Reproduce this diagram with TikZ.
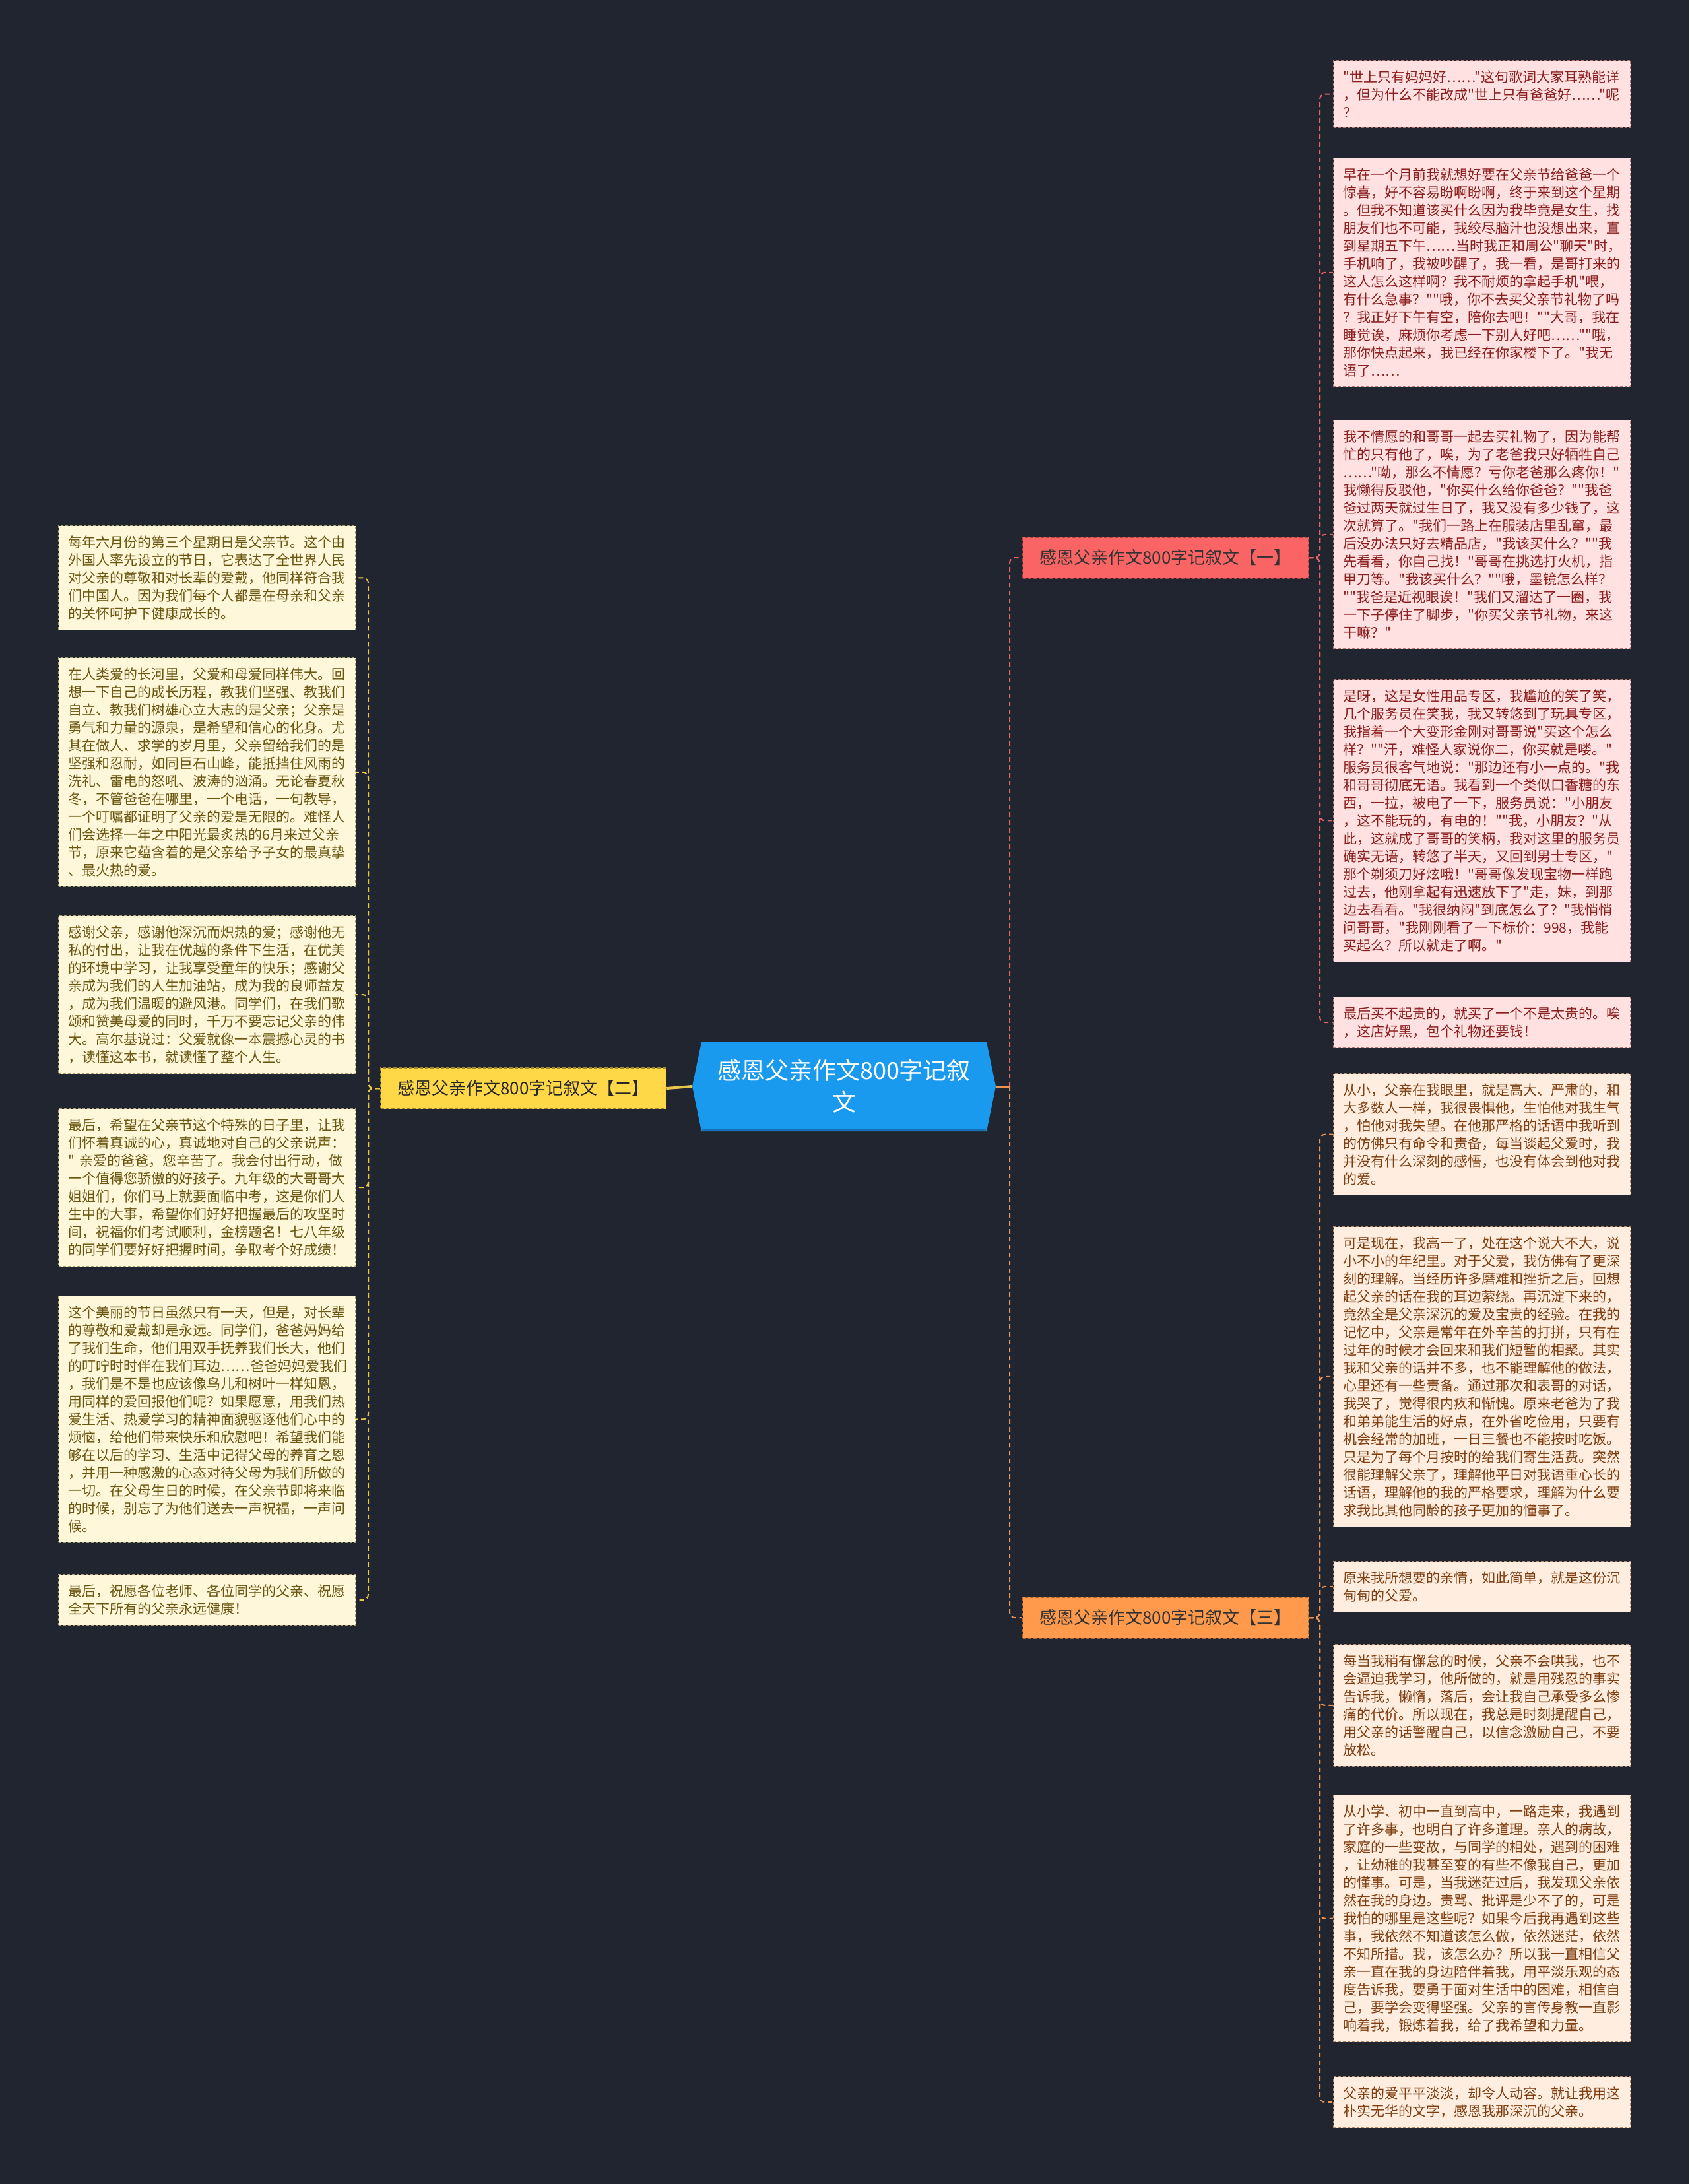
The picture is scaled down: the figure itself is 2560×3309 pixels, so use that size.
\documentclass[tikz,border=0pt]{standalone}
\usepackage{fontspec}
\newfontfamily\cjk{Noto Sans CJK SC}
\usetikzlibrary{calc}
\definecolor{cbg}{HTML}{21252F}
\definecolor{aFill}{HTML}{FFE1E1}
\definecolor{aText}{HTML}{8B1E1E}
\definecolor{aBord}{HTML}{B87878}
\definecolor{cFill}{HTML}{FFEEE0}
\definecolor{cText}{HTML}{7F3F12}
\definecolor{cBord}{HTML}{B88A68}
\definecolor{bFill}{HTML}{FEF7DA}
\definecolor{bText}{HTML}{6B5712}
\definecolor{bBord}{HTML}{ACA070}
\definecolor{brA}{HTML}{FA6464}
\definecolor{brAb}{HTML}{A84545}
\definecolor{brC}{HTML}{FF9A4C}
\definecolor{brCb}{HTML}{B06A30}
\definecolor{brB}{HTML}{FFD848}
\definecolor{brBb}{HTML}{A08A30}
\definecolor{cblue}{HTML}{1A9AEF}
\definecolor{cbluedark}{HTML}{1570B8}
\definecolor{lnA}{HTML}{E56363}
\definecolor{lnC}{HTML}{EF9352}
\definecolor{lnB}{HTML}{E8C64A}
\tikzset{
  leaf/.style={anchor=north west, text width=420pt, inner xsep=15pt, inner ysep=15pt,
    align=left, font=\cjk\fontsize{21}{27}\selectfont, line width=1.2pt,
    dash pattern=on 4pt off 3pt},
  leafA/.style={leaf, fill=aFill, draw=aBord, text=aText},
  leafC/.style={leaf, fill=cFill, draw=cBord, text=cText},
  leafB/.style={leaf, fill=bFill, draw=bBord, text=bText},
  branch/.style={minimum width=433pt, minimum height=62pt, inner sep=0pt,
    font=\cjk\fontsize{26}{32}\selectfont, line width=1.5pt, dash pattern=on 5pt off 3pt},
  branchA/.style={branch, fill=brA, draw=brAb, text=black!80},
  branchC/.style={branch, fill=brC, draw=brCb, text=black!80},
  branchB/.style={branch, fill=brB, draw=brBb, text=black!85},
  centernode/.style={minimum width=460pt, minimum height=135pt, inner sep=0pt, align=center,
    font=\cjk\fontsize{36}{48}\selectfont, text=white},
  con/.style={line width=2pt, dash pattern=on 7pt off 5pt, rounded corners=8pt},
  conA/.style={con, draw=lnA},
  conC/.style={con, draw=lnC},
  conB/.style={con, draw=lnB},
}
\begin{document}
\begin{tikzpicture}[x=1pt,y=-1pt]
\useasboundingbox (0,0) rectangle (2560,3309);
\fill[cbg] (0,0) rectangle (2560,3309);

% center
\fill[cblue] (1063,1579) -- (1495,1579) -- (1509,1646) -- (1495,1714) -- (1063,1714) -- (1049,1646) -- cycle;
\draw[cbluedark, line width=4pt] (1064,1712) -- (1494,1712);
\node[centernode] (center) at (1279,1646) {感恩父亲作文800字记叙\\文};

% branches
\node[branchA] (b1) at (1766,845) {感恩父亲作文800字记叙文【一】};
\node[branchC] (b3) at (1766,2451) {感恩父亲作文800字记叙文【三】};
\node[branchB] (b2) at (793,1649) {感恩父亲作文800字记叙文【二】};

% right leaves group 1
\node[leafA] (r1) at (2020,91) {"世上只有妈妈好……"这句歌词大家耳熟能详\\，但为什么不能改成"世上只有爸爸好……"呢\\？};
\node[leafA] (r2) at (2020,239) {早在一个月前我就想好要在父亲节给爸爸一个\\惊喜，好不容易盼啊盼啊，终于来到这个星期\\。但我不知道该买什么因为我毕竟是女生，找\\朋友们也不可能，我绞尽脑汁也没想出来，直\\到星期五下午……当时我正和周公"聊天"时，\\手机响了，我被吵醒了，我一看，是哥打来的\\这人怎么这样啊？我不耐烦的拿起手机"喂，\\有什么急事？""哦，你不去买父亲节礼物了吗\\？我正好下午有空，陪你去吧！""大哥，我在\\睡觉诶，麻烦你考虑一下别人好吧……""哦，\\那你快点起来，我已经在你家楼下了。"我无\\语了……};
\node[leafA] (r3) at (2020,636) {我不情愿的和哥哥一起去买礼物了，因为能帮\\忙的只有他了，唉，为了老爸我只好牺牲自己\\……"呦，那么不情愿？亏你老爸那么疼你！"\\我懒得反驳他，"你买什么给你爸爸？""我爸\\爸过两天就过生日了，我又没有多少钱了，这\\次就算了。"我们一路上在服装店里乱窜，最\\后没办法只好去精品店，"我该买什么？""我\\先看看，你自己找！"哥哥在挑选打火机，指\\甲刀等。"我该买什么？""哦，墨镜怎么样？\\""我爸是近视眼诶！"我们又溜达了一圈，我\\一下子停住了脚步，"你买父亲节礼物，来这\\干嘛？"};
\node[leafA] (r4) at (2020,1029) {是呀，这是女性用品专区，我尴尬的笑了笑，\\几个服务员在笑我，我又转悠到了玩具专区，\\我指着一个大变形金刚对哥哥说"买这个怎么\\样？""汗，难怪人家说你二，你买就是喽。"\\服务员很客气地说："那边还有小一点的。"我\\和哥哥彻底无语。我看到一个类似口香糖的东\\西，一拉，被电了一下，服务员说："小朋友\\，这不能玩的，有电的！""我，小朋友？"从\\此，这就成了哥哥的笑柄，我对这里的服务员\\确实无语，转悠了半天，又回到男士专区，"\\那个剃须刀好炫哦！"哥哥像发现宝物一样跑\\过去，他刚拿起有迅速放下了"走，妹，到那\\边去看看。"我很纳闷"到底怎么了？"我悄悄\\问哥哥，"我刚刚看了一下标价：998，我能\\买起么？所以就走了啊。"};
\node[leafA] (r5) at (2020,1510) {最后买不起贵的，就买了一个不是太贵的。唉\\，这店好黑，包个礼物还要钱！};

% right leaves group 3
\node[leafC] (r6) at (2020,1626) {从小，父亲在我眼里，就是高大、严肃的，和\\大多数人一样，我很畏惧他，生怕他对我生气\\，怕他对我失望。在他那严格的话语中我听到\\的仿佛只有命令和责备，每当谈起父爱时，我\\并没有什么深刻的感悟，也没有体会到他对我\\的爱。};
\node[leafC] (r7) at (2020,1858) {可是现在，我高一了，处在这个说大不大，说\\小不小的年纪里。对于父爱，我仿佛有了更深\\刻的理解。当经历许多磨难和挫折之后，回想\\起父亲的话在我的耳边萦绕。再沉淀下来的，\\竟然全是父亲深沉的爱及宝贵的经验。在我的\\记忆中，父亲是常年在外辛苦的打拼，只有在\\过年的时候才会回来和我们短暂的相聚。其实\\我和父亲的话并不多，也不能理解他的做法，\\心里还有一些责备。通过那次和表哥的对话，\\我哭了，觉得很内疚和惭愧。原来老爸为了我\\和弟弟能生活的好点，在外省吃俭用，只要有\\机会经常的加班，一日三餐也不能按时吃饭。\\只是为了每个月按时的给我们寄生活费。突然\\很能理解父亲了，理解他平日对我语重心长的\\话语，理解他的我的严格要求，理解为什么要\\求我比其他同龄的孩子更加的懂事了。};
\node[leafC] (r8) at (2020,2365) {原来我所想要的亲情，如此简单，就是这份沉\\甸甸的父爱。};
\node[leafC] (r9) at (2020,2491) {每当我稍有懈怠的时候，父亲不会哄我，也不\\会逼迫我学习，他所做的，就是用残忍的事实\\告诉我，懒惰，落后，会让我自己承受多么惨\\痛的代价。所以现在，我总是时刻提醒自己，\\用父亲的话警醒自己，以信念激励自己，不要\\放松。};
\node[leafC] (r10) at (2020,2719) {从小学、初中一直到高中，一路走来，我遇到\\了许多事，也明白了许多道理。亲人的病故，\\家庭的一些变故，与同学的相处，遇到的困难\\，让幼稚的我甚至变的有些不像我自己，更加\\的懂事。可是，当我迷茫过后，我发现父亲依\\然在我的身边。责骂、批评是少不了的，可是\\我怕的哪里是这些呢？如果今后我再遇到这些\\事，我依然不知道该怎么做，依然迷茫，依然\\不知所措。我，该怎么办？所以我一直相信父\\亲一直在我的身边陪伴着我，用平淡乐观的态\\度告诉我，要勇于面对生活中的困难，相信自\\己，要学会变得坚强。父亲的言传身教一直影\\响着我，锻炼着我，给了我希望和力量。};
\node[leafC] (r11) at (2020,3146) {父亲的爱平平淡淡，却令人动容。就让我用这\\朴实无华的文字，感恩我那深沉的父亲。};

% left leaves group 2
\node[leafB] (l1) at (88,796) {每年六月份的第三个星期日是父亲节。这个由\\外国人率先设立的节日，它表达了全世界人民\\对父亲的尊敬和对长辈的爱戴，他同样符合我\\们中国人。因为我们每个人都是在母亲和父亲\\的关怀呵护下健康成长的。};
\node[leafB] (l2) at (88,996) {在人类爱的长河里，父爱和母爱同样伟大。回\\想一下自己的成长历程，教我们坚强、教我们\\自立、教我们树雄心立大志的是父亲；父亲是\\勇气和力量的源泉，是希望和信心的化身。尤\\其在做人、求学的岁月里，父亲留给我们的是\\坚强和忍耐，如同巨石山峰，能抵挡住风雨的\\洗礼、雷电的怒吼、波涛的汹涌。无论春夏秋\\冬，不管爸爸在哪里，一个电话，一句教导，\\一个叮嘱都证明了父亲的爱是无限的。难怪人\\们会选择一年之中阳光最炙热的6月来过父亲\\节，原来它蕴含着的是父亲给予子女的最真挚\\、最火热的爱。};
\node[leafB] (l3) at (88,1387) {感谢父亲，感谢他深沉而炽热的爱；感谢他无\\私的付出，让我在优越的条件下生活，在优美\\的环境中学习，让我享受童年的快乐；感谢父\\亲成为我们的人生加油站，成为我的良师益友\\，成为我们温暖的避风港。同学们，在我们歌\\颂和赞美母爱的同时，千万不要忘记父亲的伟\\大。高尔基说过：父爱就像一本震撼心灵的书\\，读懂这本书，就读懂了整个人生。};
\node[leafB] (l4) at (88,1679) {最后，希望在父亲节这个特殊的日子里，让我\\们怀着真诚的心，真诚地对自己的父亲说声：\\" 亲爱的爸爸，您辛苦了。我会付出行动，做\\一个值得您骄傲的好孩子。九年级的大哥哥大\\姐姐们，你们马上就要面临中考，这是你们人\\生中的大事，希望你们好好把握最后的攻坚时\\间，祝福你们考试顺利，金榜题名！七八年级\\的同学们要好好把握时间，争取考个好成绩！};
\node[leafB] (l5) at (88,1963) {这个美丽的节日虽然只有一天，但是，对长辈\\的尊敬和爱戴却是永远。同学们，爸爸妈妈给\\了我们生命，他们用双手抚养我们长大，他们\\的叮咛时时伴在我们耳边……爸爸妈妈爱我们\\，我们是不是也应该像鸟儿和树叶一样知恩，\\用同样的爱回报他们呢？如果愿意，用我们热\\爱生活、热爱学习的精神面貌驱逐他们心中的\\烦恼，给他们带来快乐和欣慰吧！希望我们能\\够在以后的学习、生活中记得父母的养育之恩\\，并用一种感激的心态对待父母为我们所做的\\一切。在父母生日的时候，在父亲节即将来临\\的时候，别忘了为他们送去一声祝福，一声问\\候。};
\node[leafB] (l6) at (88,2385) {最后，祝愿各位老师、各位同学的父亲、祝愿\\全天下所有的父亲永远健康！};

% connectors: center
\coordinate (sC) at (1530,1646);
\draw[lnC, line width=3pt] (center.east) -- (sC);
\draw[conA] (sC) |- (b1.west);
\draw[conC] (sC) |- (b3.west);
\draw[lnB, line width=4pt] (center.west) -- (b2.east);

% group 1
\coordinate (sA) at (2000,845);
\foreach \n in {r1,r2,r3,r4,r5} {\draw[conA] (b1.east) -- (sA) |- (\n.west);}
% group 3
\coordinate (sT) at (2000,2451);
\foreach \n in {r6,r7,r8,r9,r10,r11} {\draw[conC] (b3.east) -- (sT) |- (\n.west);}
% group 2
\coordinate (sL) at (558,1649);
\foreach \n in {l1,l2,l3,l4,l5,l6} {\draw[conB] (b2.west) -- (sL) |- (\n.east);}
\end{tikzpicture}
\end{document}
